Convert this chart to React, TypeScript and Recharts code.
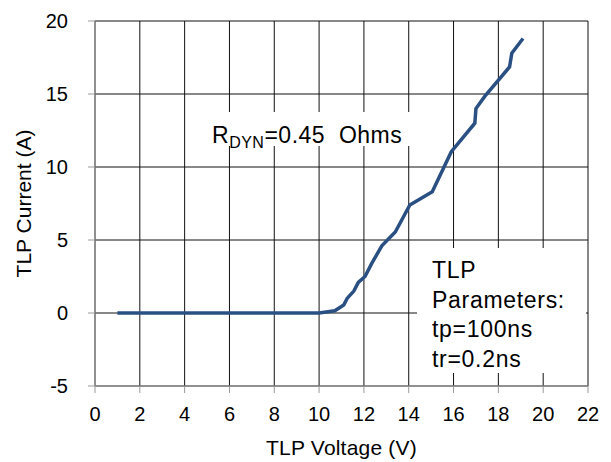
import React from 'react';
import { LineChart, Line, XAxis, YAxis, CartesianGrid, Label } from 'recharts';

// TLP I-V curve
const voltage = [1, 10, 10.7, 11.1, 11.25, 11.55, 11.75, 12.05, 12.35, 12.8, 13.4, 14.05, 15.05, 15.9, 16.95, 17.0, 17.4, 18.5, 18.6, 19.1];
const current = [0, 0, 0.15, 0.55, 1.0, 1.5, 2.1, 2.5, 3.4, 4.6, 5.55, 7.4, 8.3, 11.05, 13.0, 14.0, 14.85, 16.85, 17.8, 18.8];

const xTicks = [0, 2, 4, 6, 8, 10, 12, 14, 16, 18, 20, 22];
const yTicks = [-5, 0, 5, 10, 15, 20];
const paramLines = ['TLP', 'Parameters:', 'tp=100ns', 'tr=0.2ns'];

const font = '"Liberation Sans", Arial, sans-serif';
const tickStyle = { fontSize: 20, fill: '#000', fontFamily: font };

export default function App() {
  const data = voltage.map((v, k) => ({ v, i: current[k] }));

  return (
    <div style={{ position: 'absolute', left: 0, top: 0, width: 611, height: 462, background: '#fff' }}>
      <LineChart width={611} height={462} data={data} margin={{ top: 21, right: 23, bottom: 0, left: 0 }}>
        <CartesianGrid stroke="#111" strokeWidth={1} />
        <XAxis
          dataKey="v"
          type="number"
          domain={[0, 22]}
          ticks={xTicks}
          interval={0}
          height={76}
          tick={tickStyle}
          tickSize={7}
          tickMargin={14}
          stroke="#999"
        >
          <Label
            value="TLP Voltage (V)"
            position="insideBottom"
            offset={7}
            style={{ fontSize: 21, fill: '#000', fontFamily: font, letterSpacing: 0.2 }}
          />
        </XAxis>
        <YAxis
          type="number"
          domain={[-5, 20]}
          ticks={yTicks}
          interval={0}
          width={95}
          tick={tickStyle}
          tickSize={7}
          tickMargin={20}
          stroke="#999"
        >
          <Label
            value="TLP Current (A)"
            position="insideLeft"
            angle={-90}
            offset={24}
            style={{ fontSize: 21, fill: '#000', fontFamily: font, textAnchor: 'middle' }}
          />
        </YAxis>
        <Line
          dataKey="i"
          type="linear"
          stroke="#2a5083"
          strokeWidth={3.5}
          dot={false}
          isAnimationActive={false}
        />
      </LineChart>

      {/* annotation boxes */}
      <svg width={611} height={462} style={{ position: 'absolute', left: 0, top: 0, pointerEvents: 'none' }}>
        <rect x={188} y={112} width={226} height={34} fill="#fff" />
        <text x={212} y={143} fontSize={23} fontFamily={font} fill="#000" letterSpacing={0.5} xmlSpace="preserve">
          R
          <tspan fontSize={16} dy={5}>DYN</tspan>
          <tspan dy={-5}>=0.45  Ohms</tspan>
        </text>

        <rect x={417} y={248} width={169} height={125} fill="#fff" />
        {paramLines.map((t, k) => (
          <text key={t} x={432} y={278 + k * 29.7} fontSize={23} fontFamily={font} fill="#000" letterSpacing={0.7}>
            {t}
          </text>
        ))}
      </svg>
    </div>
  );
}
